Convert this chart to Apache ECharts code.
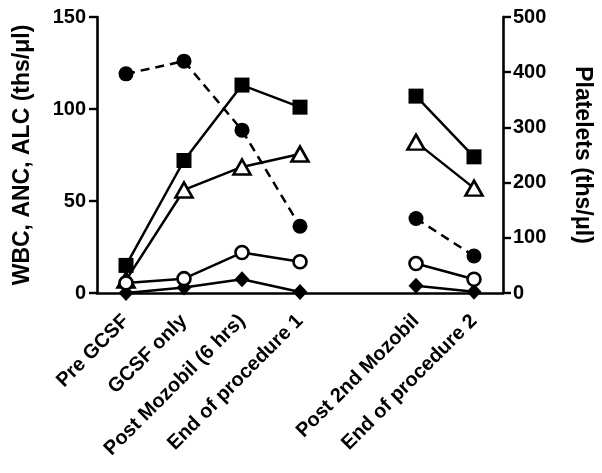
<!DOCTYPE html>
<html>
<head>
<meta charset="utf-8">
<script src="https://cdn.jsdelivr.net/npm/echarts@6/dist/echarts.min.js"></script>
<style>html,body{margin:0;padding:0;background:#fff;}#c{width:602px;height:473px;}</style>
</head>
<body>
<div id="c"></div>
<script>
var categories = ['Pre GCSF', 'GCSF only', 'Post Mozobil (6 hrs)', 'End of procedure 1', '', 'Post 2nd Mozobil', 'End of procedure 2'];
var wbc = [15, 72, 113, 101, null, 107, 74];
var anc = [7, 56, 68.5, 75.5, null, 82, 57];
var alc = [5.5, 7.8, 22, 17, null, 16, 7.5];
var other = [0, 3, 7.5, 0.5, null, 4, 0.7];
var platelets = [397, 420, 295, 121, null, 135, 67];
var leftTicks = [0, 50, 100, 150];
var rightTicks = [0, 100, 200, 300, 400, 500];

var FONT = '"Liberation Sans", Arial, sans-serif';
var chart = echarts.init(document.getElementById('c'));
function baseSeries(name, data, symbol, size, filled, yIdx, dashed) {
  return {
    name: name, type: 'line', data: data, yAxisIndex: yIdx || 0,
    symbol: symbol, symbolSize: size, connectNulls: false,
    lineStyle: {color: '#000', width: 2.5, type: dashed ? [9, 6] : 'solid'},
    itemStyle: {color: filled ? '#000' : '#fff', borderColor: '#000', borderWidth: filled ? 0 : 2.6, opacity: 1},
    emphasis: {disabled: true},
    animation: false
  };
}
chart.setOption({
  animation: false,
  grid: {left: 97, right: 95, top: 17, bottom: 180, containLabel: false},
  xAxis: {
    type: 'category', data: categories, boundaryGap: true,
    axisLine: {lineStyle: {color: '#000', width: 2.6}},
    axisTick: {alignWithLabel: true, length: 8, lineStyle: {color: '#000', width: 2.4},
      interval: function (i) { return i !== 4; }},
    axisLabel: {interval: 0, rotate: 45, margin: 25, verticalAlign: 'middle', color: '#000', fontWeight: 'bold', fontSize: 20, fontFamily: FONT}
  },
  yAxis: [{
    type: 'value', min: 0, max: 150, interval: 50,
    name: 'WBC, ANC, ALC (ths/\u03bcl)', nameLocation: 'middle', nameRotate: 90, nameGap: 63,
    nameTextStyle: {color: '#000', fontWeight: 'bold', fontSize: 23, fontFamily: FONT},
    axisLine: {show: true, lineStyle: {color: '#000', width: 2.6}},
    axisTick: {show: true, length: 8, lineStyle: {color: '#000', width: 2.4}},
    axisLabel: {margin: 11, color: '#000', fontWeight: 'bold', fontSize: 20, fontFamily: FONT,
      formatter: function (v) { return leftTicks.indexOf(v) >= 0 ? String(v) : ''; }},
    splitLine: {show: false}
  }, {
    type: 'value', min: 0, max: 500, interval: 100, position: 'right',
    name: 'Platelets (ths/\u03bcl)', nameLocation: 'middle', nameRotate: -90, nameGap: 68,
    nameTextStyle: {color: '#000', fontWeight: 'bold', fontSize: 23, fontFamily: FONT},
    axisLine: {show: true, lineStyle: {color: '#000', width: 2.6}},
    axisTick: {show: true, length: 8, lineStyle: {color: '#000', width: 2.4}},
    axisLabel: {margin: 10, color: '#000', fontWeight: 'bold', fontSize: 20, fontFamily: FONT,
      formatter: function (v) { return rightTicks.indexOf(v) >= 0 ? String(v) : ''; }},
    splitLine: {show: false}
  }],
  series: [
    baseSeries('Platelets', platelets, 'circle', 15, true, 1, true),
    baseSeries('WBC', wbc, 'rect', 15, true, 0, false),
    baseSeries('ANC', anc, 'triangle', [17, 15], false, 0, false),
    baseSeries('Other', other, 'diamond', [15, 16], true, 0, false),
    baseSeries('ALC', alc, 'circle', 13, false, 0, false)
  ]
});
</script>
</body>
</html>
